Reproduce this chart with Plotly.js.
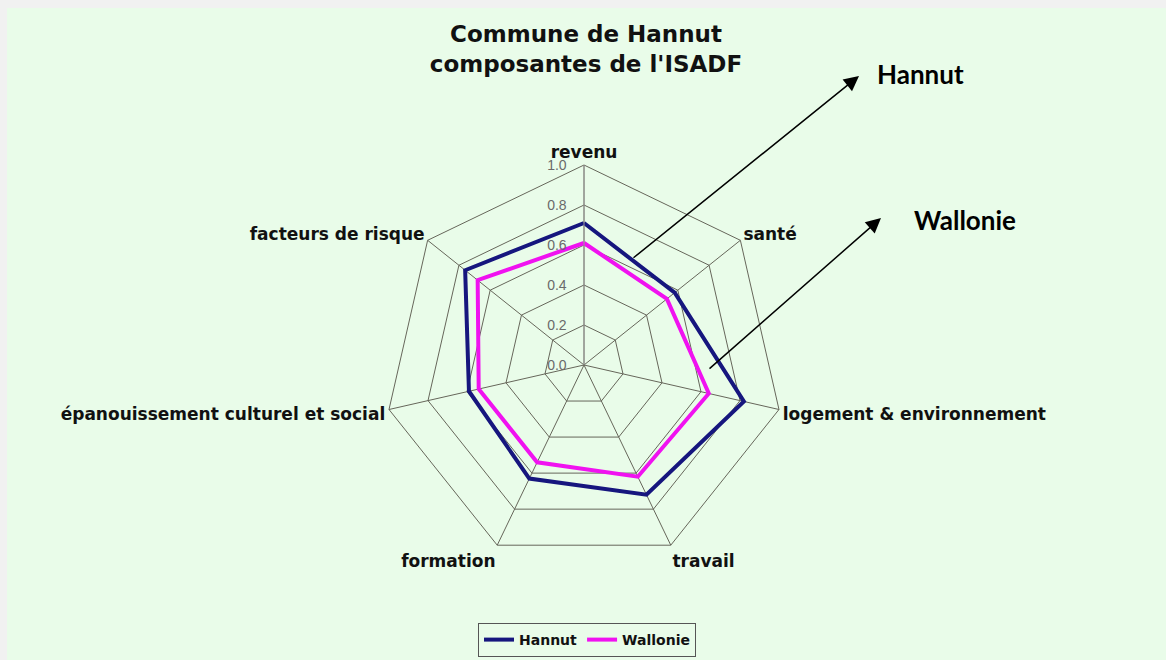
<!DOCTYPE html>
<html>
<head>
<meta charset="utf-8">
<script src="https://cdn.plot.ly/plotly-3.0.1.min.js"></script>
<style>
  html,body{margin:0;padding:0;background:#e9fce9;}
  #chart{width:1166px;height:660px;}
</style>
</head>
<body>
<div id="chart"></div>
<script>
// ISADF components, Hannut vs Wallonie
const categories=['revenu','santé','logement & environnement','travail','formation','épanouissement culturel et social','facteurs de risque'];
const hannut=[0.71,0.58,0.82,0.72,0.63,0.59,0.76];
const wallonie=[0.61,0.53,0.64,0.62,0.54,0.54,0.68];
const radialTicks=[0,0.2,0.4,0.6,0.8,1.0];

const W=1166,H=660;
const px=(x)=>x/W;
const py=(y)=>1-y/H;
const bg='#e9fce9';
const gridCol='#66665a';
const labelFont='DejaVu Sans, Arial, sans-serif';

function closed(arr){ return arr.concat([arr[0]]); }

const traces=[
  { type:'scatterpolar', r:closed(hannut), theta:closed(categories), mode:'lines', name:'Hannut',
    line:{color:'#16167e',width:4}, hoverinfo:'skip' },
  { type:'scatterpolar', r:closed(wallonie), theta:closed(categories), mode:'lines', name:'Wallonie',
    line:{color:'#f012f0',width:4}, hoverinfo:'skip' }
];

const layout={
  width:W, height:H,
  margin:{l:0,r:0,t:0,b:0},
  paper_bgcolor:bg,
  title:{text:'Commune de Hannut<br>composantes de l\'ISADF', x:px(586), xanchor:'center', y:py(42), yanchor:'top',
    font:{family:labelFont,size:23,color:'#111',weight:'bold'}},
  polar:{
    domain:{x:[px(384),px(784)], y:[py(565),py(165)]},
    bgcolor:bg,
    gridshape:'linear',
    angularaxis:{direction:'clockwise', rotation:90, linecolor:gridCol, linewidth:1, gridcolor:gridCol, gridwidth:1,
      ticks:'', tickfont:{family:labelFont,size:17,color:'#111',weight:'bold'}},
    radialaxis:{range:[0,1], tickvals:radialTicks, tickformat:'.1f', angle:90, tickangle:90, side:'counterclockwise',
      showline:true, linecolor:'#9a9a9a', linewidth:1, gridcolor:gridCol, gridwidth:1,
      ticks:'outside', ticklen:12, tickcolor:'rgba(0,0,0,0)',
      tickfont:{family:'Liberation Sans, Arial, sans-serif',size:14,color:'#6a6a6a'}}
  },
  showlegend:true,
  legend:{orientation:'h', x:px(587), xanchor:'center', y:py(657), yanchor:'bottom',
    bordercolor:'#555', borderwidth:1, bgcolor:bg,
    font:{family:labelFont,size:14,color:'#111',weight:'bold'}},
  shapes:[
    {type:'rect', xref:'paper', yref:'paper', x0:0, x1:1, y0:py(8), y1:1, fillcolor:'#f1f1f1', line:{width:0}, layer:'below'},
    {type:'rect', xref:'paper', yref:'paper', x0:0, x1:px(7), y0:0, y1:1, fillcolor:'#f1f1f1', line:{width:0}, layer:'below'}
  ],
  annotations:[
    {xref:'paper', yref:'paper', x:px(859), y:py(76), text:'', showarrow:true, arrowhead:2, arrowsize:2, arrowwidth:1.5, arrowcolor:'#000',
      axref:'pixel', ayref:'pixel', ax:632-859, ay:259-76},
    {xref:'paper', yref:'paper', x:px(881), y:py(218), text:'', showarrow:true, arrowhead:2, arrowsize:2, arrowwidth:1.5, arrowcolor:'#000',
      axref:'pixel', ayref:'pixel', ax:708-881, ay:370-218},
    {xref:'paper', yref:'paper', x:px(920), y:py(74), text:'<b>Hannut</b>', showarrow:false, xanchor:'center', yanchor:'middle',
      font:{family:'Lato, sans-serif', size:26, color:'#000'}},
    {xref:'paper', yref:'paper', x:px(965), y:py(220), text:'<b>Wallonie</b>', showarrow:false, xanchor:'center', yanchor:'middle',
      font:{family:'Lato, sans-serif', size:26, color:'#000'}}
  ]
};

Plotly.newPlot('chart',traces,layout,{staticPlot:true});
</script>
</body>
</html>
